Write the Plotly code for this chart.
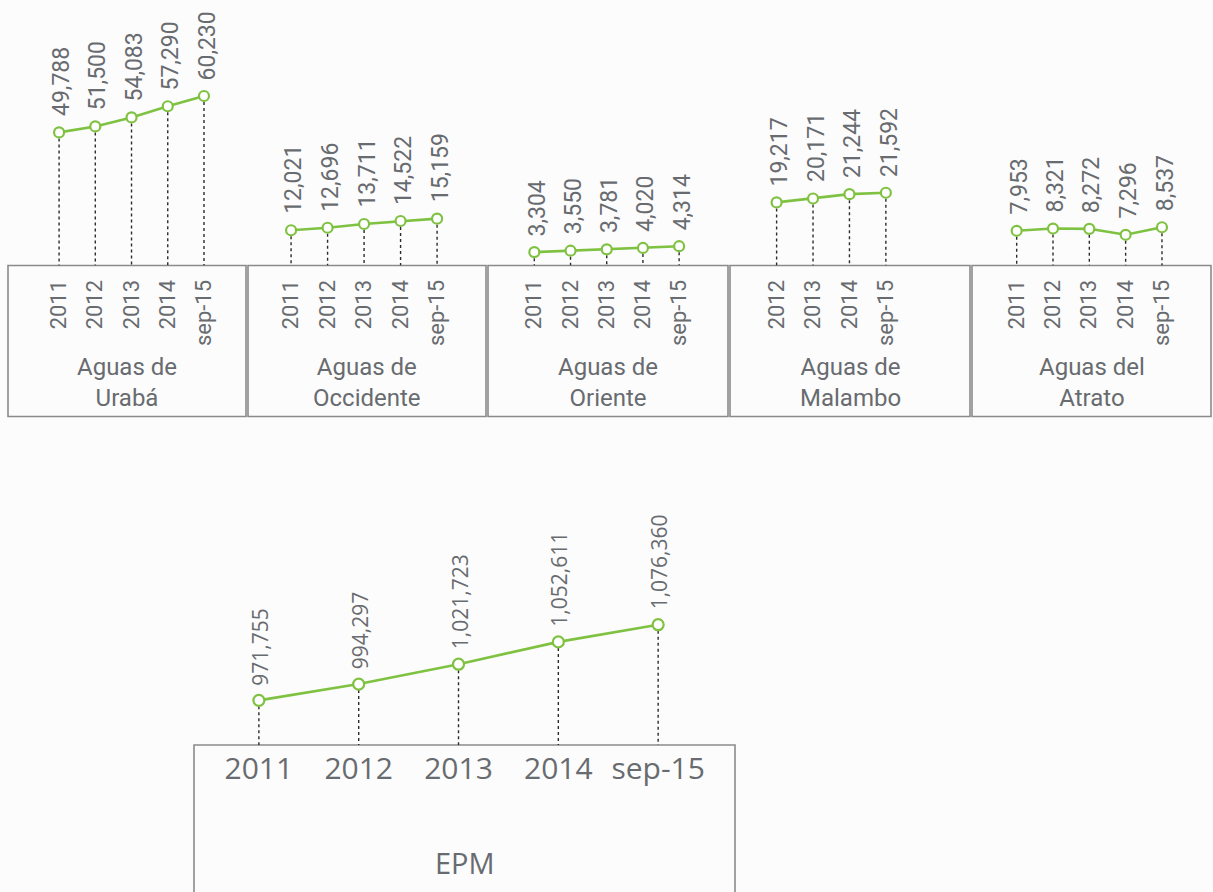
import plotly.graph_objects as go

# ---- data -------------------------------------------------------------
periods = ["2011", "2012", "2013", "2014", "sep-15"]
periods_malambo = ["2012", "2013", "2014", "sep-15"]

uraba = [49788, 51500, 54083, 57290, 60230]
occidente = [12021, 12696, 13711, 14522, 15159]
oriente = [3304, 3550, 3781, 4020, 4314]
malambo = [19217, 20171, 21244, 21592]
atrato = [7953, 8321, 8272, 7296, 8537]
epm = [971755, 994297, 1021723, 1052611, 1076360]

names = ["Aguas de<br>Urabá", "Aguas de<br>Occidente", "Aguas de<br>Oriente",
         "Aguas de<br>Malambo", "Aguas del<br>Atrato", "EPM"]

# ---- layout geometry (pixels of the 1213x892 page) ----------------------
W, H = 1213, 892
GREEN = "#7fc241"
GREY_TXT = "#686b6f"
BOX_LINE = "#8a8a8a"
SMALL_FONT = "Liberation Sans Narrow, Roboto, sans-serif"
BIG_FONT = "Open Sans, sans-serif"


def px_x(p):
    return p / W


def px_y(p):
    return 1 - p / H


panels = [
    dict(cats=periods, vals=uraba, bx=(8, 246), by=(265.5, 416.5),
         xr=(-1.41, 5.16), yr=(11623, 87750), top=0),
    dict(cats=periods, vals=occidente, bx=(248, 486), by=(265.5, 416.5),
         xr=(-1.18, 5.34), yr=(2510, 74190), top=0),
    dict(cats=periods, vals=oriente, bx=(488, 728), by=(265.5, 416.5),
         xr=(-1.28, 5.35), yr=(1038, 46114), top=0),
    dict(cats=periods_malambo, vals=malambo, bx=(730, 970), by=(265.5, 416.5),
         xr=(-1.28, 5.31), yr=(3696, 69000), top=0),
    dict(cats=periods, vals=atrato, bx=(972, 1211), by=(265.5, 416.5),
         xr=(-1.23, 5.35), yr=(2262, 45790), top=0),
    dict(cats=periods, vals=epm, bx=(194, 735), by=(745, 900),
         xr=(-0.65, 4.77), yr=(910000, 1318000), top=450),
]

fig = go.Figure()
shapes = []
annotations = []

for i, p in enumerate(panels):
    n = i + 1
    xa = "x" if n == 1 else f"x{n}"
    ya = "y" if n == 1 else f"y{n}"
    big = (n == 6)
    cats, vals = p["cats"], p["vals"]
    y_floor = p["yr"][0]

    # dotted drop lines from each point down to the box
    dx, dy = [], []
    for c, v in zip(cats, vals):
        dx += [c, c, None]
        dy += [v, y_floor, None]
    fig.add_trace(go.Scatter(
        x=dx, y=dy, mode="lines", xaxis=xa, yaxis=ya, hoverinfo="skip",
        line=dict(color="#2b2b2b", width=1.4, dash="dot"), showlegend=False))

    # the series line with open circle markers
    fig.add_trace(go.Scatter(
        x=cats, y=vals, mode="lines+markers", xaxis=xa, yaxis=ya,
        line=dict(color=GREEN, width=2.6),
        marker=dict(symbol="circle", size=11 if big else 10, color="white",
                    line=dict(color=GREEN, width=2.2)),
        showlegend=False))

    # rotated value labels above the points (category index positions)
    for k, v in enumerate(vals):
        annotations.append(dict(
            x=k, y=v, xref=xa, yref=ya, text=f"{v:,}", textangle=-90,
            showarrow=False, xanchor="center", yanchor="bottom",
            yshift=13 if big else 14, xshift=1 if big else 3,
            font=dict(family=BIG_FONT if big else SMALL_FONT,
                      size=21 if big else 23, color=GREY_TXT)))

    x0, x1 = p["bx"]
    y0, y1 = p["by"]
    dom_x = [px_x(x0), px_x(x1)]
    dom_y = [px_y(y0), px_y(p["top"])]

    axis_x = dict(domain=dom_x, anchor=ya, type="category",
                  range=list(p["xr"]), showgrid=False, zeroline=False,
                  showline=False, ticks="", fixedrange=True,
                  tickfont=dict(family=BIG_FONT if big else SMALL_FONT,
                                size=30 if big else 22, color=GREY_TXT),
                  tickangle=0 if big else -90,
                  ticklabelstandoff=3 if big else 9)
    axis_y = dict(domain=dom_y, anchor=xa, range=list(p["yr"]),
                  visible=False, fixedrange=True)
    fig.update_layout(**{
        ("xaxis" if n == 1 else f"xaxis{n}"): axis_x,
        ("yaxis" if n == 1 else f"yaxis{n}"): axis_y,
    })

    # framed box holding the period labels and the company name
    shapes.append(dict(type="rect", xref="paper", yref="paper",
                       x0=px_x(x0), x1=px_x(x1), y0=px_y(y1), y1=px_y(y0),
                       line=dict(color=BOX_LINE, width=1.6),
                       fillcolor="rgba(0,0,0,0)", layer="below"))
    name_y = 862 if big else 382
    annotations.append(dict(
        x=px_x((x0 + x1) / 2), y=px_y(name_y), xref="paper", yref="paper",
        text=names[i], showarrow=False, xanchor="center", yanchor="middle",
        font=dict(family=BIG_FONT if big else SMALL_FONT,
                  size=29 if big else 24, color=GREY_TXT)))

fig.update_layout(
    width=W, height=H,
    margin=dict(l=0, r=0, t=0, b=0),
    paper_bgcolor="#fcfcfc", plot_bgcolor="rgba(0,0,0,0)",
    shapes=shapes, annotations=annotations,
    showlegend=False,
)

fig.write_html("out.html")
